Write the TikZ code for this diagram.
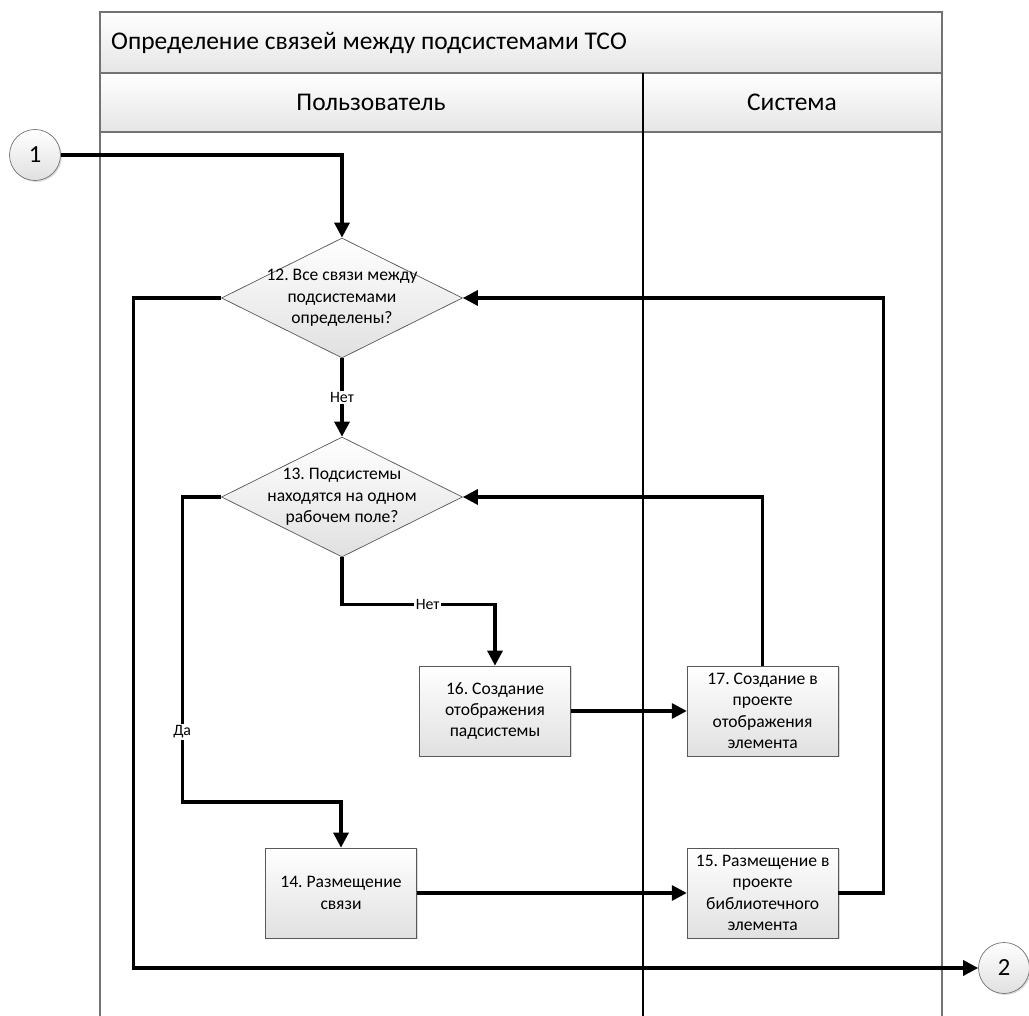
\documentclass[tikz,border=0pt]{standalone}
\usepackage{fontspec}
\setmainfont{Carlito}
\usetikzlibrary{arrows.meta,positioning,shapes.geometric,shadows}
\frenchspacing

\begin{document}
\begin{tikzpicture}[x=0.02cm,y=-0.02cm,>={Triangle[length=8.5pt,width=8.5pt]},
	flow/.style={->,line width=1.8pt},
	proc/.style={draw=black!65,rectangle,top color=white,bottom color=black!12,drop shadow={opacity=0.3,shadow xshift=0.8pt,shadow yshift=-0.8pt},minimum width=3.02cm,minimum height=1.8cm,align=center,font=\fontsize{10}{12.2}\selectfont},
	decision/.style={draw=black!65,diamond,top color=white,bottom color=black!12,minimum width=4.82cm,minimum height=2.4cm,inner sep=0pt},
	conn/.style={draw=black!55,circle,top color=white,bottom color=black!12,drop shadow={opacity=0.3,shadow xshift=0.8pt,shadow yshift=-0.8pt},minimum size=1.02cm,inner sep=0pt,font=\fontsize{14}{16}\selectfont},
	lbl/.style={fill=white,inner sep=1pt,font=\fontsize{9}{10}\selectfont},
	band/.style={draw=black!55,line width=1pt,top color=white,bottom color=black!10},
	lane/.style={draw=black,line width=0.6pt}]
	\useasboundingbox (0,0) rectangle (1029,1016);

	% pool and lanes
	\path[band] (100,12) rectangle (942,73);
	\path[band] (100,73) rectangle (942,132);
	\draw[black!55,line width=1pt] (100,12) -- (100,1016) (942,12) -- (942,1016);
	\draw[lane] (643,73) -- (643,1016);
	\node[anchor=west,font=\fontsize{14.5}{16}\selectfont]	(pool)	at (105,43)	{Определение связей между подсистемами ТСО};
	\node[font=\fontsize{14.5}{16}\selectfont]				(user)	at (371,102)	{Пользователь};
	\node[font=\fontsize{14.5}{16}\selectfont]				(sys)	at (792,102)	{Система};

	% steps
	\node[conn]		(c1)	at (35,155)		{1};
	\node[conn]		(c2)	at (1004,968)	{2};
	\node[decision,label={[align=center,font=\fontsize{10}{12.2}\selectfont]center:{12. Все связи между\\подсистемами\\определены?}}]	(d12)	at (342,298)	{};
	\node[decision,label={[align=center,font=\fontsize{10}{12.2}\selectfont]center:{13. Подсистемы\\находятся на одном\\рабочем поле?}}]	(d13)	at (342,497)	{};
	\node[proc]		(b16)	at (495,711)	{16. Создание\\отображения\\падсистемы};
	\node[proc]		(b17)	[right=2.32cm of b16]	{17. Создание в\\проекте\\отображения\\элемента};
	\node[proc]		(b14)	at (341,893)	{14. Размещение\\связи};
	\node[proc]		(b15)	at (b17 |- b14)	{15. Размещение в\\проекте\\библиотечного\\элемента};

	% connectors
	\draw[flow] (c1) -| (d12);
	\draw[flow] (d12) -- node[lbl] {Нет} (d13);
	\draw[flow] (d12.west) -- ++(-88,0) |- (c2);
	\draw[flow] (d13.south) -- ++(0,47) -| node[lbl,pos=0.28] {Нет} (b16);
	\draw[flow] (d13.west) -- ++(-39,0) -- node[lbl,pos=0.77] {Да} ++(0,305) -| (b14);
	\draw[flow] (b16) -- (b17);
	\draw[flow] (b17) |- (d13);
	\draw[flow] (b14) -- (b15);
	\draw[flow] (b15.east) -- ++(45,0) |- (d12);
\end{tikzpicture}
\end{document}
